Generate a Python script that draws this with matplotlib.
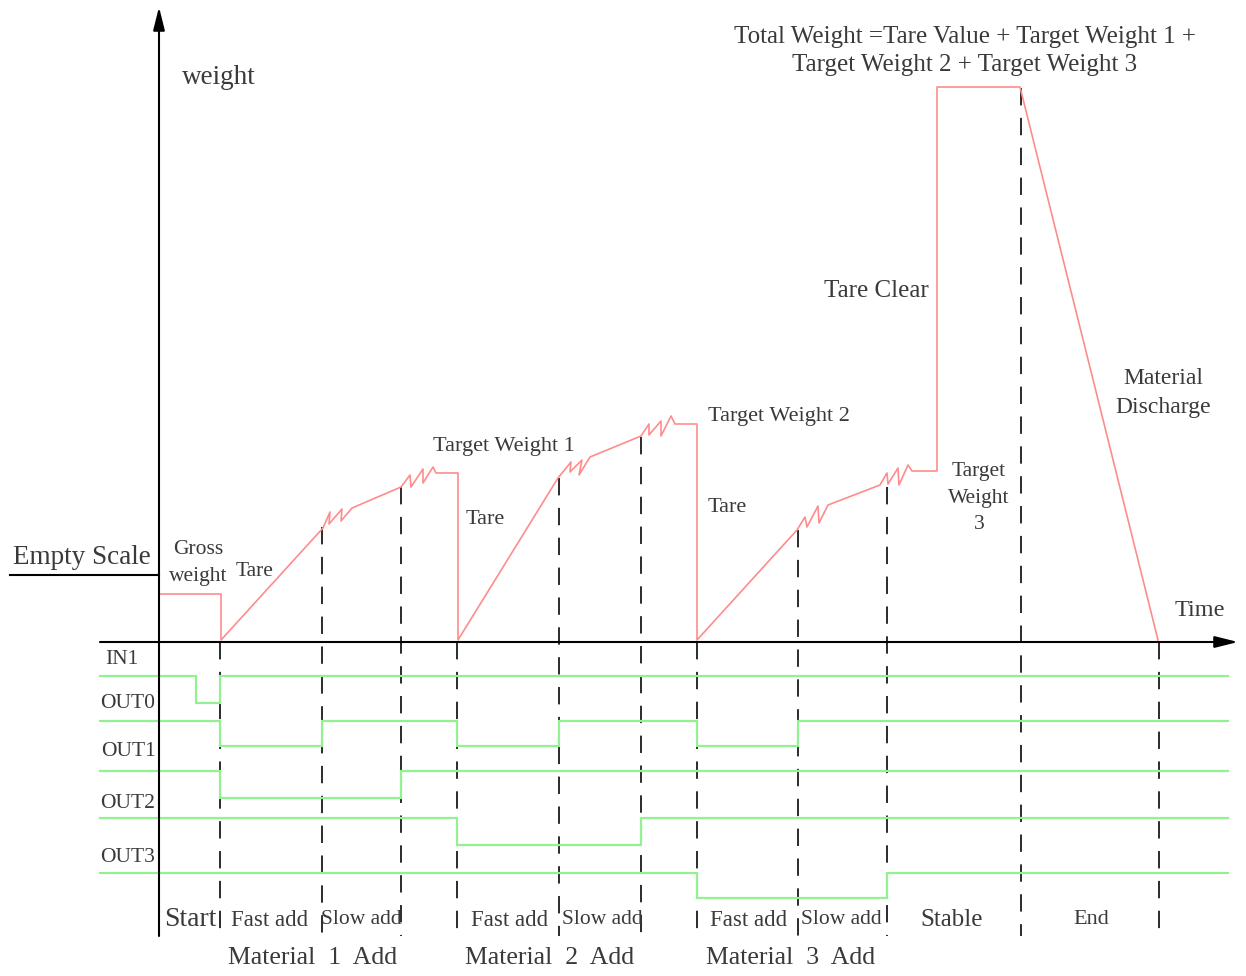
import matplotlib
matplotlib.use("Agg")
import matplotlib.pyplot as plt

plt.rcParams['lines.scale_dashes'] = False
plt.rcParams['font.family'] = ['Liberation Serif', 'DejaVu Serif']

# ---- weight curve (time position, weight level on the drawing grid) ----
weight_x = [159, 221, 221, 323, 330, 329, 342, 341, 352, 401, 410, 411, 423, 423, 433, 436, 458, 458,
            558, 571, 570, 582, 579, 590, 641, 649, 649, 661, 661, 671, 675, 697, 697,
            797, 805, 807, 818, 819, 828, 880, 887, 888, 898, 899, 908, 912, 937, 937,
            1020, 1158]
weight_y = [594, 594, 640, 528, 512, 524, 509, 521, 508, 487, 475, 487, 469, 483, 467, 473, 473, 640,
            478, 462, 472, 460, 475, 457, 436, 424, 435, 421, 436, 416, 424, 424, 640,
            530, 517, 527, 506, 523, 505, 485, 473, 484, 468, 485, 465, 471, 471, 87,
            87, 640]

# ---- phase boundaries ----
phase_x = [220, 322, 401, 457, 559, 641, 697, 798, 887, 1021, 1159]
phase_top = [642, 527, 487, 642, 478, 437, 642, 530, 487, 88, 642]
phase_bottom = 936

# ---- digital I/O signals ----
signal_names = ['IN1', 'OUT0', 'OUT1', 'OUT2', 'OUT3']
signal_label_x = [122, 128, 128, 128, 128]
signal_label_y = [660, 703, 752, 803, 857]
signal_high = [676, 721, 771, 818, 873]
signal_low = [703, 746, 798, 845, 898]
signal_low_spans = [
    [(196, 220)],
    [(220, 322), (457, 559), (697, 798)],
    [(220, 401)],
    [(457, 641)],
    [(697, 887)],
]
signal_start, signal_end = 100, 1228

# ---- phase labels ----
step_labels = ['Start', 'Fast add', 'Slow add', 'Fast add', 'Slow add', 'Fast add', 'Slow add', 'Stable', 'End']
step_x = [190, 270, 361, 510, 602, 749, 841, 952, 1091]
step_size = [20, 16.5, 15.5, 16.5, 15.5, 16.5, 15.5, 18, 16]
group_labels = ['Material  1  Add', 'Material  2  Add', 'Material  3  Add']
group_x = [313, 550, 791]

RED = '#ff8c8c'
GREEN = '#92f292'
TXT = '#3a3a3a'

fig = plt.figure(figsize=(12.46, 9.76), dpi=100)
ax = fig.add_axes([0, 0, 1, 1])
ax.set_xlim(0, 1246)
ax.set_ylim(976, 0)
ax.axis('off')

# dashed phase boundaries
for x, top in zip(phase_x, phase_top):
    ax.plot([x, x], [top, phase_bottom], color='#1a1a1a', lw=1.3,
            linestyle=(0, (12.5, 9)), zorder=2)

# signal traces
for hi, lo, spans in zip(signal_high, signal_low, signal_low_spans):
    xs, ys = [signal_start], [hi]
    for a, b in spans:
        xs += [a, a, b, b]
        ys += [hi, lo, lo, hi]
    xs.append(signal_end)
    ys.append(hi)
    ax.plot(xs, ys, color=GREEN, lw=1.6, zorder=3, solid_joinstyle='miter')

# weight curve
ax.plot(weight_x, weight_y, color=RED, lw=1.2, zorder=4)

# axes with arrows
arrow = dict(arrowstyle='-|>,head_length=1.0,head_width=0.25', mutation_scale=14,
             lw=1.5, color='black', shrinkA=0, shrinkB=0)
ax.annotate('', xy=(1238, 642), xytext=(100, 642), arrowprops=arrow, zorder=5)
ax.annotate('', xy=(159, 7), xytext=(159, 936), arrowprops=arrow, zorder=5)
ax.plot([10, 159], [575, 575], color='black', lw=1.5, zorder=5)

# annotations
def label(x, y, s, size, ha='left', **kw):
    ax.text(x, y, s, fontsize=size, ha=ha, va='center', color=TXT, zorder=6, **kw)

label(182, 77, 'weight', 19.5)
label(965, 37, 'Total Weight =Tare Value + Target Weight 1 +', 18, ha='center')
label(965, 65, 'Target Weight 2 + Target Weight 3', 18, ha='center')
label(82, 558, 'Empty Scale', 19.5, ha='center')
label(198, 563, 'Gross\nweight', 15.5, ha='center', linespacing=1.6)
label(236, 572, 'Tare', 15.5)
label(433, 447, 'Target Weight 1', 16)
label(466, 520, 'Tare', 16)
label(708, 417, 'Target Weight 2', 16)
label(708, 507, 'Tare', 16)
label(876, 291, 'Tare Clear', 18, ha='center')
label(979, 498, 'Target\nWeight\n3', 15.5, ha='center', linespacing=1.55)
label(1163, 393, 'Material\nDischarge', 17, ha='center', linespacing=1.45)
label(1200, 610, 'Time', 17.5, ha='center')

for name, x, y in zip(signal_names, signal_label_x, signal_label_y):
    label(x, y, name, 15.5, ha='center')

for s, x, fs in zip(step_labels, step_x, step_size):
    label(x, 920, s, fs, ha='center')
for s, x in zip(group_labels, group_x):
    label(x, 958, s, 18.5, ha='center')

fig.savefig('out.png', dpi=100, facecolor='white')
